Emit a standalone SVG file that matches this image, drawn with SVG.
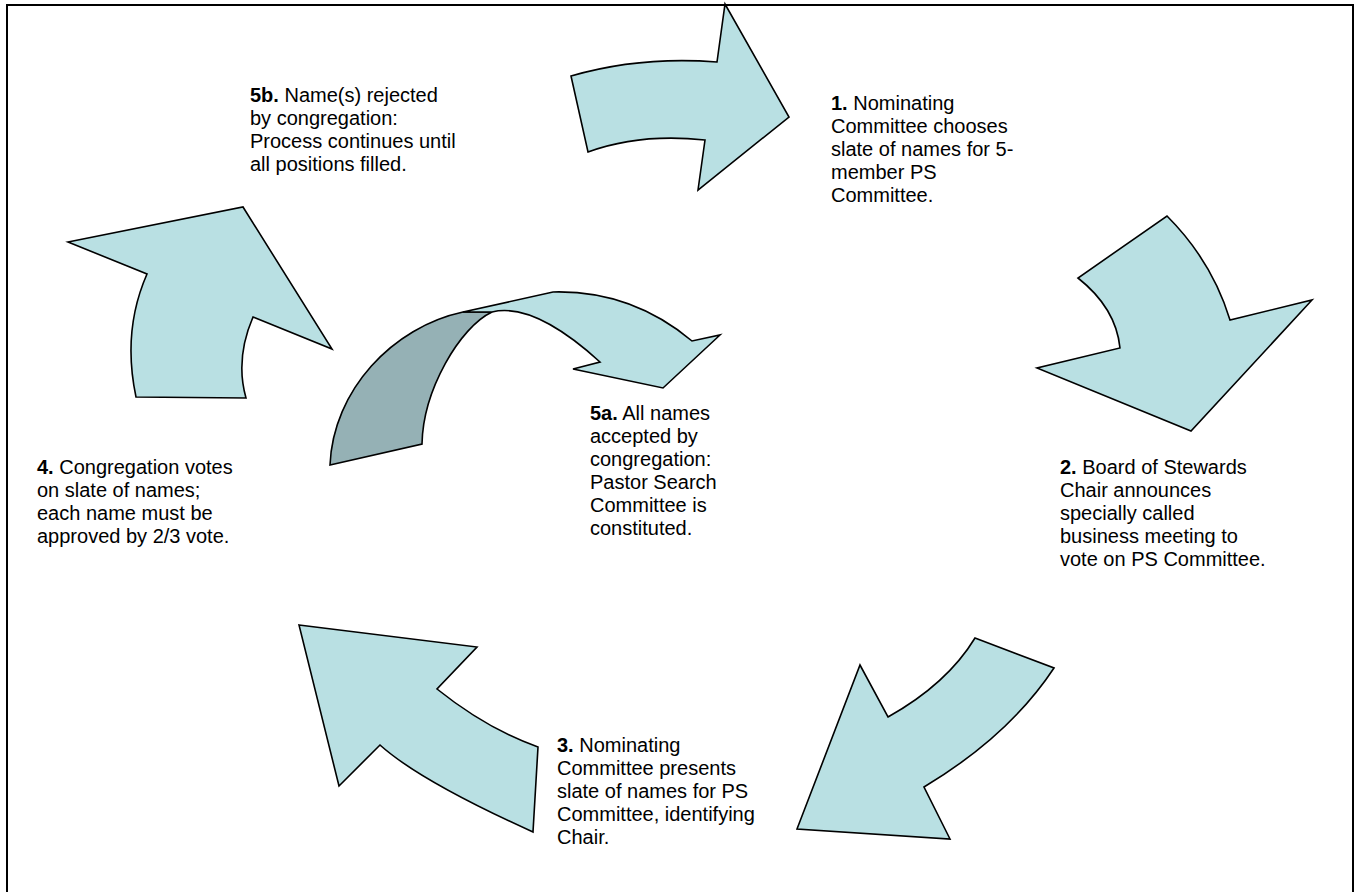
<svg xmlns="http://www.w3.org/2000/svg" width="1358" height="892" viewBox="0 0 1358 892">
<style>
.arr{fill:#b9e0e3;stroke:#000;stroke-width:1.6;stroke-linejoin:miter}
.dark{fill:#95b1b5;stroke:#000;stroke-width:1.6}
.t{font-family:"Liberation Sans",Arial,sans-serif;font-size:20px;fill:#000}
.b{font-weight:bold}
</style>
<rect x="7" y="5" width="1346" height="920" fill="#fff" stroke="#000" stroke-width="2"/>
<g id="connectors">
<path class="arr" d="M571,76 Q640,56 717,62 L725,4 L789,117 L698,190 L705,140 Q640,133 588,152 Z"/>
<path class="arr" d="M1167,216 Q1212,261 1230,320 L1312,300 L1191,431 L1037,368 L1120,348 Q1116,308 1078,278 Z"/>
<path class="arr" d="M975,638 L1054,668 Q1009,736 924,787 L950,839 L797,829 L860,665 L888,717 Q947,684 975,638 Z"/>
<path class="arr" d="M299,625 L477,647 L437,689 Q487,729 538,747 L533,832 Q420,781 380,745 L339,786 Z"/>
<path class="arr" d="M68,242 L243,207 L332,349 L253,317 Q235,359 246,398 L136,397 Q122,331 147,274 Z"/>
<path class="dark" d="M330,465 C333,390 393,327 463,312 L492,312 C460,327 423,390 422,444 Z"/>
<path class="arr" d="M463,312 L553,292 Q631,290 692,341 L720,335 L663,388 L573,369 L600,362 Q534,302 492,312 Z"/>
</g>
<g id="node-1"><text class="t" x="831" y="110"><tspan class="b">1.</tspan> Nominating</text><text class="t" x="831" y="133">Committee chooses</text><text class="t" x="831" y="156">slate of names for 5-</text><text class="t" x="831" y="179">member PS</text><text class="t" x="831" y="202">Committee.</text></g>
<g id="node-2"><text class="t" x="1060" y="474"><tspan class="b">2.</tspan> Board of Stewards</text><text class="t" x="1060" y="497">Chair announces</text><text class="t" x="1060" y="520">specially called</text><text class="t" x="1060" y="543">business meeting to</text><text class="t" x="1060" y="566">vote on PS Committee.</text></g>
<g id="node-3"><text class="t" x="557" y="752"><tspan class="b">3.</tspan> Nominating</text><text class="t" x="557" y="775">Committee presents</text><text class="t" x="557" y="798">slate of names for PS</text><text class="t" x="557" y="821">Committee, identifying</text><text class="t" x="557" y="844">Chair.</text></g>
<g id="node-4"><text class="t" x="37" y="474"><tspan class="b">4.</tspan> Congregation votes</text><text class="t" x="37" y="497">on slate of names;</text><text class="t" x="37" y="520">each name must be</text><text class="t" x="37" y="543">approved by 2/3 vote.</text></g>
<g id="node-5a"><text class="t" x="590" y="420"><tspan class="b">5a.</tspan> All names</text><text class="t" x="590" y="443">accepted by</text><text class="t" x="590" y="466">congregation:</text><text class="t" x="590" y="489">Pastor Search</text><text class="t" x="590" y="512">Committee is</text><text class="t" x="590" y="535">constituted.</text></g>
<g id="node-5b"><text class="t" x="250" y="102"><tspan class="b">5b.</tspan> Name(s) rejected</text><text class="t" x="250" y="125">by congregation:</text><text class="t" x="250" y="148">Process continues until</text><text class="t" x="250" y="171">all positions filled.</text></g>
</svg>
